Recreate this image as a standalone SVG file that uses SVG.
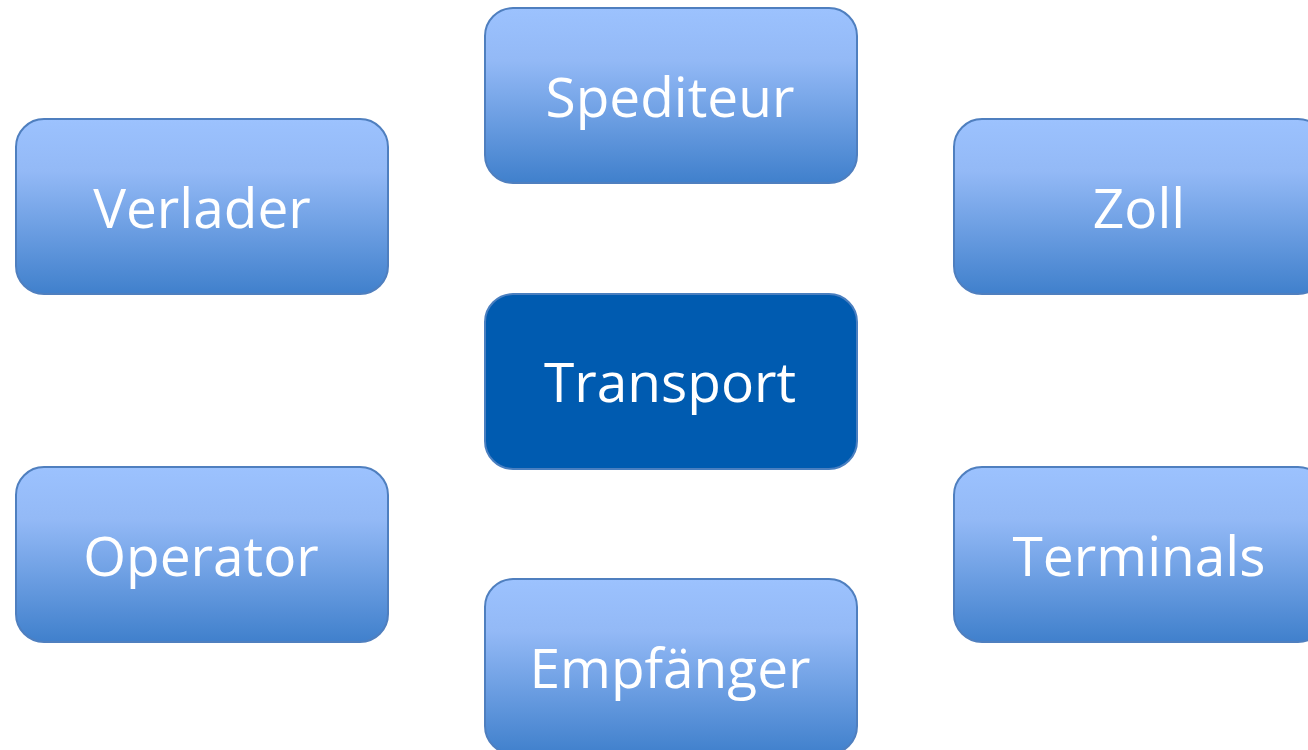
<svg xmlns="http://www.w3.org/2000/svg" width="1308" height="750" viewBox="0 0 1308 750">
  <defs>
    <linearGradient id="g" x1="0" y1="0" x2="0" y2="1">
      <stop offset="0" stop-color="#9cc2fe"/>
      <stop offset="0.3" stop-color="#93b9f6"/>
      <stop offset="1" stop-color="#4080cc"/>
    </linearGradient>
    <style>
      .n { fill: url(#g); stroke: #4f7fbf; stroke-width: 2; }
      .c { fill: #005bb0; stroke: #4a7fc0; stroke-width: 2; }
      .t { fill: #ffffff; font-family: "Open Sans", "DejaVu Sans", sans-serif; font-size: 55px; text-anchor: middle; }
    </style>
  </defs>
  <rect width="1308" height="750" fill="#ffffff"/>
  <g id="connectors"/>
  <g id="spediteur">
    <rect class="n" x="485" y="8" width="372" height="175" rx="28"/>
    <text class="t" x="670" y="117">Spediteur</text>
  </g>
  <g id="verlader">
    <rect class="n" x="16" y="119" width="372" height="175" rx="28"/>
    <text class="t" x="202" y="228">Verlader</text>
  </g>
  <g id="zoll">
    <rect class="n" x="954" y="119" width="372" height="175" rx="28"/>
    <text class="t" x="1139" y="228">Zoll</text>
  </g>
  <g id="transport">
    <rect class="c" x="485" y="294" width="372" height="175" rx="28"/>
    <text class="t" x="670" y="402">Transport</text>
  </g>
  <g id="operator">
    <rect class="n" x="16" y="467" width="372" height="175" rx="28"/>
    <text class="t" x="201" y="576">Operator</text>
  </g>
  <g id="terminals">
    <rect class="n" x="954" y="467" width="372" height="175" rx="28"/>
    <text class="t" x="1139" y="576">Terminals</text>
  </g>
  <g id="empfaenger">
    <rect class="n" x="485" y="579" width="372" height="175" rx="28"/>
    <text class="t" x="670" y="688">Empfänger</text>
  </g>
</svg>
